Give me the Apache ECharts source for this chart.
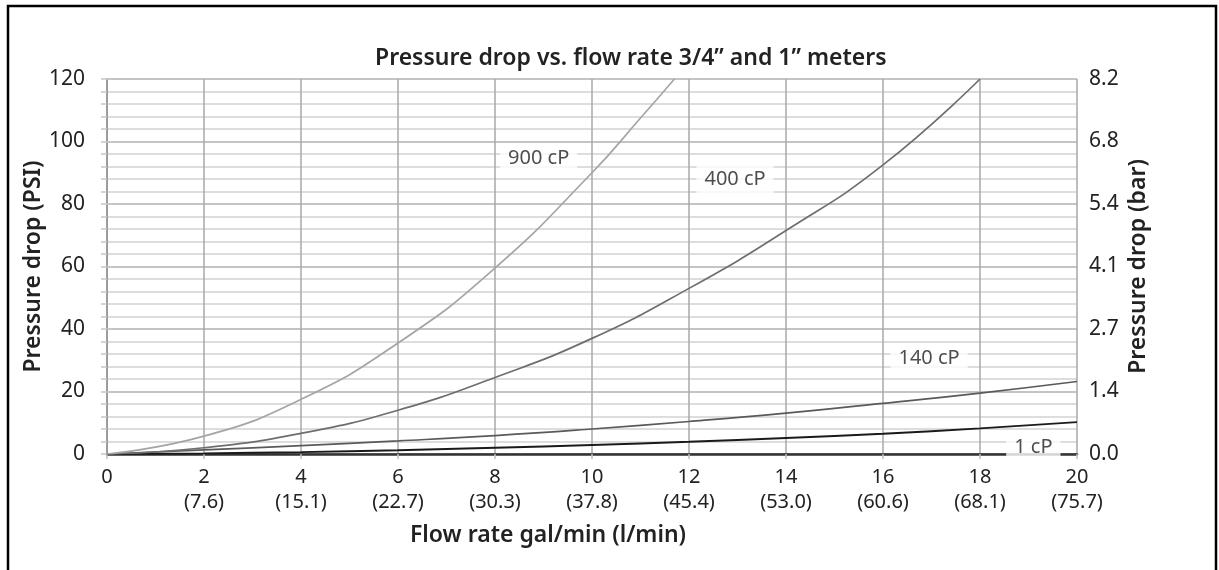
<!DOCTYPE html>
<html>
<head>
<meta charset="utf-8">
<title>Pressure drop vs. flow rate</title>
<script src="https://cdn.jsdelivr.net/npm/echarts@6/dist/echarts.min.js"></script>
<style>
  html, body { margin: 0; padding: 0; background: #fff; }
  #chart { width: 1219px; height: 570px; }
</style>
</head>
<body>
<div id="chart"></div>
<script>
// x axis ticks (gal/min) and the l/min under each one
const flowTicks = [0, 2, 4, 6, 8, 10, 12, 14, 16, 18, 20];
const litreLabels = ['', '(7.6)', '(15.1)', '(22.7)', '(30.3)', '(37.8)', '(45.4)', '(53.0)', '(60.6)', '(68.1)', '(75.7)'];
// right axis labels (bar), one per 20 PSI
const barLabels = ['0.0', '1.4', '2.7', '4.1', '5.4', '6.8', '8.2'];

// curves (gal/min -> PSI)
const flow1 = [0, 2, 4, 6, 8, 10, 12, 14, 16, 18, 20];
const psi1 = [0, 0.2, 0.6, 1.2, 2.0, 2.9, 3.9, 5.1, 6.5, 8.2, 10.2];
const flow140 = [0, 2, 4, 6, 8, 10, 12, 14, 16, 18, 20];
const psi140 = [0, 1.3, 2.7, 4.2, 5.9, 8.0, 10.4, 13.1, 16.2, 19.5, 23.2];
const flow400 = [0, 2, 4, 6, 8, 10, 12, 14, 16, 18];
const psi400 = [0, 2.0, 6.6, 14, 24.5, 37, 53, 71.5, 92.5, 120];
const flow900 = [0, 2, 4, 6, 8, 10, 11, 11.7];
const psi900 = [0, 5.7, 17.5, 35.5, 59.5, 90, 107.5, 120];

// curve names and where their tags sit
const curveNames = ['1 cP', '140 cP', '400 cP', '900 cP'];
const tagFlow = [19.1, 16.95, 12.95, 8.9];
const tagPsi = [2.3, 30.5, 88, 94.5];

const font = 'Noto Sans';
const pair = (xs, ys) => xs.map((x, i) => [x, ys[i]]);

let myChart = echarts.init(document.getElementById('chart'));

const lineSeries = (name, data, color, width) => ({
  name: name,
  type: 'line',
  data: data,
  smooth: true,
  symbol: 'none',
  lineStyle: { color: color, width: width },
  z: 3,
});

const nameStyle = { fontFamily: font, fontSize: 23, fontWeight: 600, color: '#222' };

const options = {
  animation: false,
  backgroundColor: '#fff',
  textStyle: { fontFamily: font },
  title: {
    text: 'Pressure drop vs. flow rate 3/4\u201d and 1\u201d meters',
    left: 370,
    top: 42,
    textStyle: { fontFamily: font, fontSize: 23, fontWeight: 600, color: '#222' },
  },
  grid: { left: 107, right: 142, top: 79, bottom: 116 },
  xAxis: [
    {
      type: 'value',
      min: 0,
      max: 20,
      interval: 2,
      name: 'Flow rate gal/min (l/min)',
      nameLocation: 'middle',
      nameGap: 70,
      nameMoveOverlap: false,
      nameTextStyle: Object.assign({}, nameStyle, { padding: [0, 88, 0, 0] }),
      axisLine: { lineStyle: { color: '#9a9a9a', width: 1.5 } },
      axisTick: { length: 5, lineStyle: { color: '#c0c0c0', width: 1.5 } },
      axisLabel: {
        margin: 11,
        fontSize: 20,
        color: '#222',
        lineHeight: 25,
        formatter: (v) => {
          const i = flowTicks.indexOf(v);
          return litreLabels[i] ? v + '\n' + litreLabels[i] : String(v);
        },
      },
      splitLine: { show: true, lineStyle: { color: '#a8a8a8', width: 1.5 } },
    },
    {
      // dark top edge of the plot
      type: 'value',
      position: 'top',
      min: 0,
      max: 20,
      axisLine: { show: true, lineStyle: { color: '#333', width: 2.5 } },
      axisTick: { show: false },
      axisLabel: { show: false },
      splitLine: { show: false },
    },
  ],
  yAxis: [
    {
      type: 'value',
      min: 0,
      max: 120,
      interval: 20,
      name: 'Pressure drop (PSI)',
      nameLocation: 'middle',
      nameGap: 62,
      nameMoveOverlap: false,
      nameTextStyle: nameStyle,
      axisLine: { show: true, lineStyle: { color: '#9a9a9a', width: 1.5 } },
      axisTick: { length: 6, lineStyle: { color: '#c8c8c8', width: 1.5 } },
      minorTick: { show: true, splitNumber: 5, length: 6, lineStyle: { color: '#c8c8c8', width: 1.5 } },
      axisLabel: { margin: 22, fontSize: 21, color: '#222' },
      splitLine: { show: true, lineStyle: { color: '#b0b0b0', width: 1.5 } },
      minorSplitLine: { show: true, lineStyle: { color: '#d2d2d2', width: 1.5 } },
    },
    {
      type: 'value',
      position: 'right',
      min: 0,
      max: 120,
      interval: 20,
      name: 'Pressure drop (bar)',
      nameLocation: 'middle',
      nameGap: 50,
      nameMoveOverlap: false,
      nameTextStyle: nameStyle,
      axisLine: { show: true, lineStyle: { color: '#9a9a9a', width: 1.5 } },
      axisTick: { length: 5, lineStyle: { color: '#c8c8c8', width: 1.5 } },
      axisLabel: {
        margin: 12,
        fontSize: 21,
        color: '#222',
        formatter: (v) => barLabels[v / 20],
      },
      splitLine: { show: false },
    },
  ],
  series: [
    lineSeries('1 cP', pair(flow1, psi1), '#1a1a1a', 2),
    lineSeries('140 cP', pair(flow140, psi140), '#5a5a5a', 1.7),
    lineSeries('400 cP', pair(flow400, psi400), '#6e6e6e', 1.7),
    lineSeries('900 cP', pair(flow900, psi900), '#a5a5a5', 1.7),
    {
      // curve tags on white boxes
      type: 'scatter',
      symbolSize: 1,
      itemStyle: { color: 'transparent' },
      z: 10,
      data: curveNames.map((n, i) => ({ name: n, value: [tagFlow[i], tagPsi[i]] })),
      label: {
        show: true,
        position: 'inside',
        formatter: (p) => p.name,
        fontSize: 20,
        color: '#222',
        backgroundColor: '#fff',
        padding: [4, 8],
      },
    },
  ],
  graphic: [
    {
      // outer frame
      type: 'rect',
      shape: { x: 8, y: 6, width: 1208, height: 570 },
      style: { fill: 'none', stroke: '#000', lineWidth: 2.5 },
      silent: true,
    },
  ],
};

myChart.setOption(options);
</script>
</body>
</html>
